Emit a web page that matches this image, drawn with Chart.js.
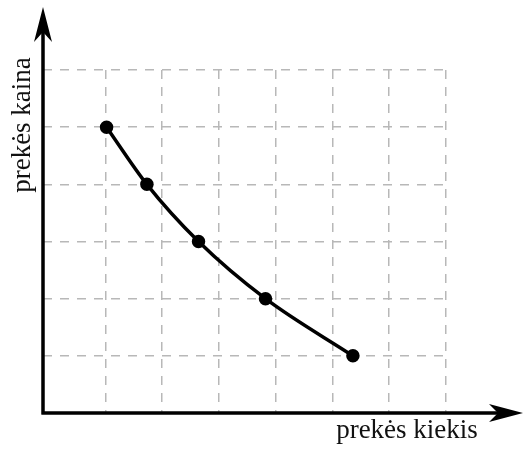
<!DOCTYPE html>
<html>
<head>
<meta charset="utf-8">
<script src="https://cdn.jsdelivr.net/npm/chart.js@4/dist/chart.umd.min.js"></script>
<style>
  html, body { margin: 0; padding: 0; background: #fff; }
  #wrap { width: 524px; height: 451px; }
</style>
</head>
<body>
<div id="wrap"><canvas id="c"></canvas></div>
<script>
// demand curve
var quantity = [1.02, 1.73, 2.64, 3.82, 5.36];
var price = [5, 4, 3, 2, 1];
var xGridTicks = [1, 2, 3, 4, 5, 6, 7];
var yGridTicks = [1, 2, 3, 4, 5, 6];
var xTitle = "prekės kiekis";
var yTitle = "prekės kaina";

var points = quantity.map(function (q, i) {
    return {x: q, y: price[i]};
});

// black axes with arrow heads + the two titles
var axesPlugin = {
    id: "arrowAxes",
    afterDraw: function (chart) {
        var ctx = chart.ctx;
        var area = chart.chartArea;
        var ox = area.left, oy = area.bottom;
        ctx.save();
        ctx.strokeStyle = "#000";
        ctx.fillStyle = "#000";
        ctx.lineWidth = 3.5;
        ctx.lineCap = "butt";

        ctx.beginPath();
        ctx.moveTo(ox, oy + 1.5);
        ctx.lineTo(ox, 30);
        ctx.moveTo(ox - 1.5, oy);
        ctx.lineTo(500, oy);
        ctx.stroke();

        // y arrow
        ctx.beginPath();
        ctx.moveTo(ox, 7);
        ctx.lineTo(ox + 9, 42);
        ctx.lineTo(ox, 32);
        ctx.lineTo(ox - 9, 42);
        ctx.closePath();
        ctx.fill();

        // x arrow
        ctx.beginPath();
        ctx.moveTo(523, oy);
        ctx.lineTo(489, oy - 9);
        ctx.lineTo(498, oy);
        ctx.lineTo(489, oy + 9);
        ctx.closePath();
        ctx.fill();

        ctx.font = "27px 'Liberation Serif', 'DejaVu Serif', serif";
        ctx.fillStyle = "#111";
        ctx.textAlign = "center";
        ctx.textBaseline = "middle";
        ctx.fillText(xTitle, 407, 431);

        ctx.translate(23, 125);
        ctx.rotate(-Math.PI / 2);
        ctx.fillText(yTitle, 0, 0);
        ctx.restore();
    }
};

var gridStyle = {
    color: "#b8b8b8",
    lineWidth: 1.5,
    drawTicks: false
};

new Chart(document.getElementById("c"), {
    type: "scatter",
    data: {
        datasets: [{
            data: points,
            showLine: true,
            borderColor: "#000",
            backgroundColor: "#000",
            borderWidth: 3.5,
            pointRadius: 5,
            pointHoverRadius: 5,
            cubicInterpolationMode: "monotone"
        }]
    },
    options: {
        responsive: true,
        maintainAspectRatio: false,
        animation: false,
        layout: {
            padding: {left: 43, top: 70, right: 78, bottom: 38}
        },
        plugins: {
            legend: {display: false},
            tooltip: {enabled: false}
        },
        scales: {
            x: {
                type: "linear",
                min: -0.1,
                max: 7,
                afterBuildTicks: function (scale) {
                    scale.ticks = xGridTicks.map(function (v) { return {value: v}; });
                },
                ticks: {display: false},
                border: {display: false, dash: [9, 8]},
                grid: gridStyle
            },
            y: {
                type: "linear",
                min: 0,
                max: 6,
                afterBuildTicks: function (scale) {
                    scale.ticks = yGridTicks.map(function (v) { return {value: v}; });
                },
                ticks: {display: false},
                border: {display: false, dash: [9, 8]},
                grid: gridStyle
            }
        }
    },
    plugins: [axesPlugin]
});
</script>
</body>
</html>
